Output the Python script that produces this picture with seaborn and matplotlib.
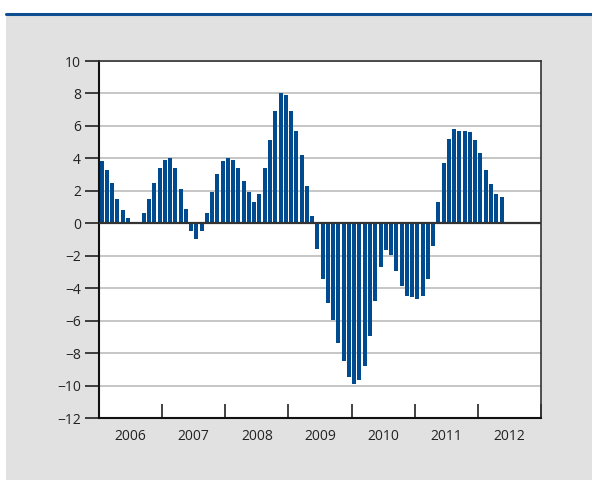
import numpy as np
import pandas as pd
import matplotlib.pyplot as plt
import seaborn as sns
from matplotlib.lines import Line2D
from matplotlib.patches import Rectangle

# Monthly values, Jan 2006 - May 2012
values = [
    3.84, 3.29, 2.48, 1.50, 0.82, 0.33, 0.02, 0.08, 0.64, 1.50, 2.48, 3.41,   # 2006
    3.90, 4.02, 3.41, 2.11, 0.88, -0.45, -0.94, -0.45, 0.64, 1.93, 3.04, 3.84,  # 2007
    4.02, 3.90, 3.41, 2.61, 1.93, 1.31, 1.81, 3.41, 5.13, 6.92, 8.03, 7.91,    # 2008
    6.92, 5.69, 4.21, 2.30, 0.45, -1.56, -3.43, -4.91, -5.95, -7.35, -8.46, -9.45,  # 2009
    -9.88, -9.63, -8.77, -6.92, -4.76, -2.67, -1.62, -1.93, -2.92, -3.84, -4.46, -4.52,  # 2010
    -4.64, -4.46, -3.41, -1.38, 1.31, 3.72, 5.20, 5.81, 5.69, 5.69, 5.63, 5.13,  # 2011
    4.33, 3.29, 2.42, 1.81, 1.62,  # 2012
]
years = [2006, 2007, 2008, 2009, 2010, 2011, 2012]
y_ticks = list(range(-12, 11, 2))

months = pd.date_range("2006-01-01", periods=len(values), freq="MS")
df = pd.DataFrame({"month": months, "value": values})
# position on a month axis, bar centred in its month
df["pos"] = (df["month"].dt.year - years[0]) * 12 + df["month"].dt.month - 1 + 0.5

sns.set_style("white")
plt.rcParams["font.family"] = ["Open Sans", "DejaVu Sans"]

fig = plt.figure(figsize=(5.92, 4.80), dpi=100)
fig.patch.set_facecolor("white")
# grey panel and blue rule at the top
fig.add_artist(Rectangle((6 / 592, 0), 1, 1 - 15 / 480, transform=fig.transFigure,
                         facecolor="#e1e1e1", edgecolor="none", zorder=-5))
fig.add_artist(Line2D([6 / 592, 1], [1 - 14 / 480, 1 - 14 / 480], transform=fig.transFigure,
                      color="#0d4f91", linewidth=2.2, zorder=-4))

ax = fig.add_axes([99 / 592, 1 - 418 / 480, 442 / 592, 357 / 480])
ax.set_zorder(1)
ax.set_facecolor("white")

for t in y_ticks:
    if t != 0:
        ax.axhline(t, color="#c2c2c2", linewidth=1.3, zorder=0)

sns.barplot(data=df, x="pos", y="value", native_scale=True, width=0.76,
            color="#004a8f", saturation=1, edgecolor="none", ax=ax, zorder=2)
ax.axhline(0, color="#333333", linewidth=1.6, zorder=3)

ax.set_xlim(0, 12 * len(years))
ax.set_ylim(-12, 10)
ax.set_yticks(y_ticks)
ax.set_yticklabels([f"{t}".replace("-", "\u2212") for t in y_ticks])

ax.set_xticks([12 * i for i in range(len(years) + 1)])
ax.set_xticklabels([])
ax.set_xticks([12 * i + 6 for i in range(len(years))], minor=True)
ax.set_xticklabels([str(y) for y in years], minor=True)

ax.tick_params(axis="y", which="major", direction="out", length=10, width=1.2,
               color="#222222", labelsize=10, labelcolor="#222222", pad=3, left=True)
ax.tick_params(axis="x", which="major", direction="in", length=10, width=1.2,
               color="#222222", bottom=True)
ax.tick_params(axis="x", which="minor", length=0, labelsize=10, labelcolor="#222222", pad=8)

ax.set_xlabel("")
ax.set_ylabel("")
for side in ["left", "bottom"]:
    ax.spines[side].set_color("#111111")
    ax.spines[side].set_linewidth(1.5)
for side in ["top", "right"]:
    ax.spines[side].set_color("#333333")
    ax.spines[side].set_linewidth(1.2)

plt.savefig("out.png", dpi=100)
